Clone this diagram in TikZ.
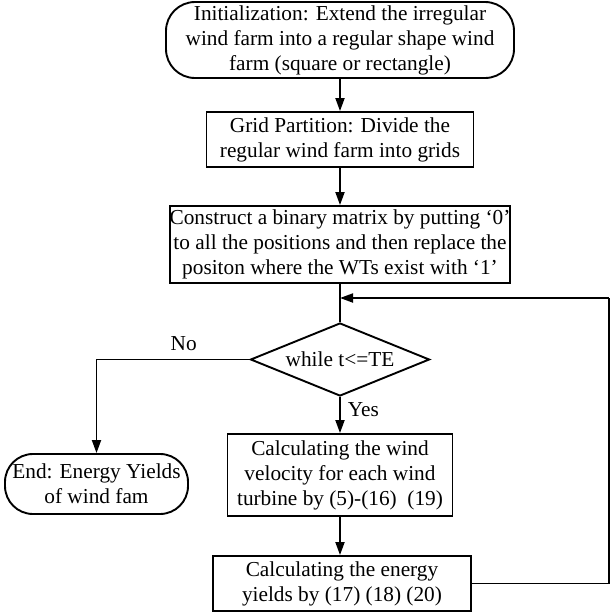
\documentclass[tikz,border=0pt]{standalone}
\usepackage{fontspec}
\setmainfont{Liberation Serif}
\usetikzlibrary{shapes.geometric,arrows.meta}
\begin{document}
\begin{tikzpicture}[x=1pt,y=-1pt,
  every node/.style={font=\fontsize{21.3}{25}\selectfont},
  box/.style={draw, line width=1.9pt, rectangle, align=center, inner sep=0pt},
  term/.style={box, rounded corners=29pt},
  dec/.style={draw, line width=1.9pt, diamond, shape aspect=2.45, inner sep=0pt, align=center},
  conn/.style={line width=1.9pt},
  arr/.style={conn, -{Triangle[length=13pt,width=9pt]}},
  lbl/.style={inner sep=0pt}
]
\useasboundingbox (0,0) rectangle (610,614);
\node[term, minimum width=348pt, minimum height=76pt] (init) at (340,40)
  {Initialization: Extend the irregular\\wind farm into a regular shape wind\\farm (square or rectangle)};
\node[box, minimum width=267pt, minimum height=55pt] (grid) at (340,139.5)
  {Grid Partition: Divide the\\regular wind farm into grids};
\node[box, minimum width=337pt, minimum height=77pt] (mat) at (340,244.5)
  {Construct a binary matrix by putting ‘0’\\to all the positions and then replace the\\positon where the WTs exist with ‘1’};
\node[dec, minimum width=179pt, minimum height=73pt] (dec) at (340,359.5) {while t<=TE};
\node[term, rounded corners=28pt, minimum width=183pt, minimum height=60pt] (end) at (96.5,484)
  {End: Energy Yields\\of wind fam};
\node[box, minimum width=225pt, minimum height=82pt] (vel) at (340,475)
  {Calculating the wind\\velocity for each wind\\turbine by (5)-(16)~~(19)};
\node[box, minimum width=258pt, minimum height=55pt] (eng) at (342,583.5)
  {Calculating the energy\\yields by (17) (18) (20)};
\coordinate (join) at (340,298);
\coordinate (rc) at (609,298);
\coordinate (nc) at (96.5,359.5);
\draw[arr] (init) -- (grid);
\draw[arr] (grid) -- (mat);
\draw[conn] (mat) -- (dec);
\draw[arr] (dec.south) -- (vel.north) node[lbl, pos=0.35, right=7pt] {Yes};
\draw[arr] (vel.south) -- (vel.south |- eng.north);
\draw[arr] (dec.west) -- (nc) node[lbl, pos=0.43, above=8pt] {No} -- (end.north);
\draw[conn] (eng.east) -| (rc);
\draw[arr] (rc) -- (join);
\end{tikzpicture}
\end{document}
